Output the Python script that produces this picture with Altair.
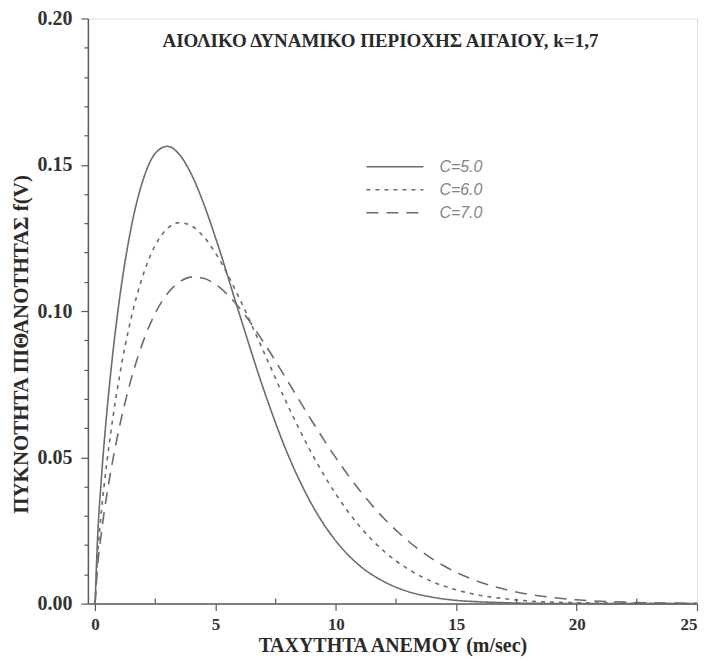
import altair as alt
import pandas as pd

# ---- data ----
speed = [0, 0.1, 0.25, 0.5, 0.75, 1, 1.5, 2, 2.5, 3, 3.5, 4, 4.5, 5, 6, 7, 8, 9,
         10, 11, 12, 13, 14, 15, 16, 17, 18, 19, 20, 22, 25]
f_c5 = [0, 0.0220, 0.0415, 0.0665, 0.0866, 0.1033, 0.1286, 0.1450, 0.1539, 0.1563,
        0.1535, 0.1467, 0.1369, 0.1251, 0.0988, 0.0732, 0.0511, 0.0339, 0.0214,
        0.0129, 0.0075, 0.0041, 0.0022, 0.0011, 0.0006, 0.0003, 0.0001, 0.00005,
        0.00002, 0, 0]
f_c6 = [0, 0.0161, 0.0305, 0.0490, 0.0642, 0.0771, 0.0977, 0.1125, 0.1225, 0.1282,
        0.1302, 0.1291, 0.1255, 0.1198, 0.1042, 0.0861, 0.0678, 0.0513, 0.0374,
        0.0263, 0.0179, 0.0118, 0.0075, 0.0047, 0.0028, 0.0017, 0.0009, 0.0005,
        0.0003, 0.0001, 0]
f_c7 = [0, 0.0124, 0.0235, 0.0379, 0.0497, 0.0600, 0.0768, 0.0897, 0.0993, 0.1059,
        0.1099, 0.1116, 0.1112, 0.1091, 0.1010, 0.0893, 0.0760, 0.0625, 0.0498,
        0.0386, 0.0291, 0.0214, 0.0153, 0.0107, 0.0073, 0.0049, 0.0032, 0.0021,
        0.0013, 0.0005, 0.0001]
series_labels = ["C=5.0", "C=6.0", "C=7.0"]
x_major_ticks = [0, 5, 10, 15, 20, 25]
x_minor_ticks = [2.5, 7.5, 12.5, 17.5, 22.5]
y_ticks = [0.00, 0.01, 0.02, 0.03, 0.04, 0.05, 0.06, 0.07, 0.08, 0.09, 0.10,
           0.11, 0.12, 0.13, 0.14, 0.15, 0.16, 0.17, 0.18, 0.19, 0.20]

title_text = "ΑΙΟΛΙΚΟ ΔΥΝΑΜΙΚΟ ΠΕΡΙΟΧΗΣ ΑΙΓΑΙΟΥ, k=1,7"
x_title = "ΤΑΧΥΤΗΤΑ ΑΝΕΜΟΥ (m/sec)"
y_title = "ΠΥΚΝΟΤΗΤΑ ΠΙΘΑΝΟΤΗΤΑΣ f(V)"

rows = []
for lab, vals in zip(series_labels, [f_c5, f_c6, f_c7]):
    for v, f in zip(speed, vals):
        rows.append({"v": v, "f": f, "series": lab})
df = pd.DataFrame(rows)
minor_df = pd.DataFrame({"v": x_minor_ticks})

W, H = 610, 586
GRAY = "#6c6c6c"
AXIS = "#5a5a5a"
SERIF = "Liberation Serif"

x_scale = alt.Scale(domain=[-0.3, 25], nice=False, zero=False)
y_scale = alt.Scale(domain=[0, 0.2], nice=False)

lines = alt.Chart(df).mark_line(strokeWidth=1.6, interpolate="monotone", color=GRAY).encode(
    x=alt.X("v:Q", scale=x_scale,
            axis=alt.Axis(values=x_major_ticks, format="d", title=x_title,
                          grid=False, domainColor=AXIS, domainWidth=1.5,
                          tickColor=AXIS, tickWidth=1.2, tickSize=7,
                          labelFont=SERIF, labelFontWeight="bold", labelFontSize=17,
                          labelColor="#333333", labelPadding=6,
                          titleFont=SERIF, titleFontWeight="bold", titleFontSize=20,
                          titleColor="#2a2a2a", titlePadding=3)),
    y=alt.Y("f:Q", scale=y_scale,
            axis=alt.Axis(values=y_ticks,
                          labelExpr="round(datum.value*100) % 5 == 0 ? format(datum.value, '.2f') : ''",
                          tickSize={"condition": {"test": "round(datum.value*100) % 5 == 0", "value": 7}, "value": 4},
                          grid=False, domainColor=AXIS, domainWidth=1.5,
                          tickColor=AXIS, tickWidth=1.2,
                          labelFont=SERIF, labelFontWeight="bold", labelFontSize=20,
                          labelColor="#333333", labelPadding=9,
                          title=y_title, titleFont=SERIF, titleFontWeight="bold",
                          titleFontSize=21, titleColor="#2a2a2a",
                          titleAngle=270, titleAlign="center", titleBaseline="middle",
                          titleX=-66, titleY=326)),
    strokeDash=alt.StrokeDash("series:N",
                              scale=alt.Scale(domain=series_labels, range=[[1, 0], [4, 5], [12, 8]]),
                              legend=alt.Legend(title=None, orient="none", legendX=297, legendY=138,
                                                symbolType="M-3,0H3", symbolSize=361,
                                                symbolStrokeWidth=1.5, symbolStrokeColor=GRAY,
                                                labelFont="Liberation Sans", labelFontStyle="italic",
                                                labelFontSize=16, labelColor="#858585",
                                                labelOffset=34, padding=0, rowPadding=4)),
)

minor = alt.Chart(minor_df).mark_rule(color=AXIS, strokeWidth=1.2).encode(
    x=alt.X("v:Q", scale=x_scale),
    y=alt.value(H - 5),
    y2=alt.value(H),
)

chart = alt.layer(lines, minor).properties(
    width=W, height=H,
    title=alt.TitleParams(title_text, font=SERIF, fontSize=19, fontWeight="bold",
                          color="#2a2a2a", anchor="middle", baseline="top",
                          offset=0, dy=43, dx=-12),
    autosize=alt.AutoSizeParams(type="none"),
    padding={"left": 80, "top": 10, "right": 4, "bottom": 54},
).configure_view(stroke=None).configure(background="white")

chart.save("out.html", embed_options={"renderer": "svg", "actions": False})
